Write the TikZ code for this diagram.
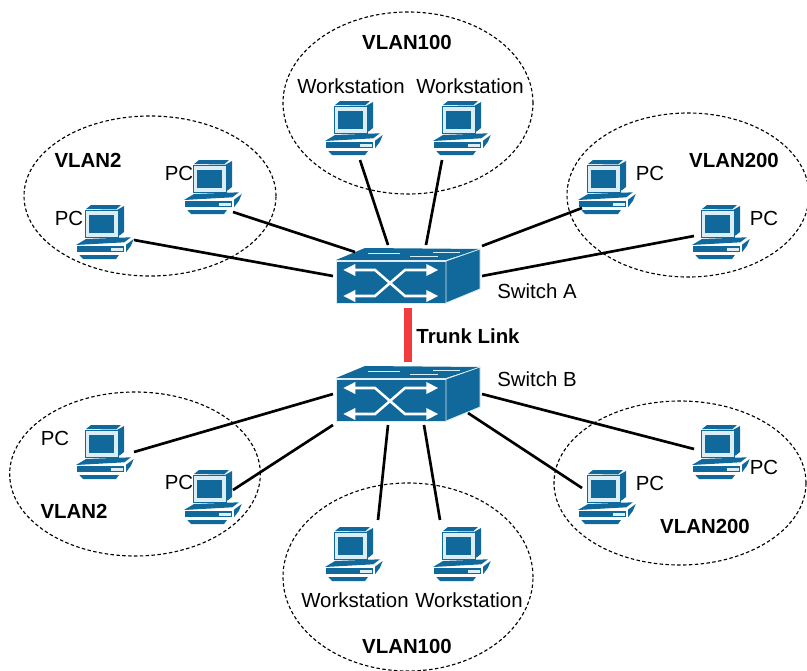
\documentclass[tikz,border=0pt]{standalone}
\usepackage{fontspec}
\setmainfont{Liberation Sans}
\usetikzlibrary{shapes.geometric}
\usetikzlibrary{arrows.meta}
\definecolor{netblue}{HTML}{10699A}
\definecolor{netpale}{HTML}{DCEEF5}
\definecolor{trunkred}{HTML}{F23B3F}
\tikzstyle{label}=[font=\fontsize{15.3}{18}\selectfont, inner sep=0pt]
\tikzstyle{vlan}=[font=\fontsize{15.3}{18}\selectfont\bfseries, inner sep=0pt]
\tikzstyle{group}=[ellipse, draw, line width=0.85pt, dash pattern=on 2.6pt off 1.8pt, inner sep=0pt]
\tikzstyle{wire}=[line width=2pt]
\tikzstyle{trunk}=[line width=6pt, trunkred, shorten <=1.5pt, shorten >=1.5pt]
\tikzstyle{flow}=[line width=1.9pt, white, {Triangle[length=9pt,width=8.5pt]}-{Triangle[length=9pt,width=8.5pt]}]
\tikzstyle{computer}=[rectangle, minimum width=46pt, minimum height=44pt, inner sep=0pt, path picture={
    \begin{scope}[shift={(path picture bounding box.center)}]
      \fill[netblue] (-18,-23) -- (-13,-27) -- (17,-27) -- (12,-22.5) -- cycle;
      \fill[netblue] (13,-22) -- (20,-26) -- (20,0) -- (15.3,3.7) -- cycle;
      \filldraw[fill=netpale, draw=netblue, line width=0.5pt] (-18.7,-21.3) rectangle (14.7,5.3);
      \fill[netblue] (-14.7,-17.3) rectangle (10.3,1.3);
      \fill[netblue] (-28,13) -- (-18,7) -- (27,5.3) -- (20.3,10.3) -- cycle;
      \fill[netblue] (-27.3,13.7) rectangle (20.3,20.3);
      \fill[netpale] (7,16) rectangle (18.7,19.3);
      \fill[netblue] (22,12.7) -- (29.7,7) -- (27,13.7) -- (22,20.3) -- cycle;
      \fill[netblue] (-24.7,23) -- (15,23) -- (12,27) -- (-21,27) -- cycle;
    \end{scope}}]
\tikzstyle{switch}=[rectangle, minimum width=110pt, minimum height=44pt, inner sep=0pt, path picture={
    \begin{scope}[shift={(path picture bounding box.center)}]
      \fill[netblue] (-43,-28) -- (72,-27) -- (38,-16) -- (-72,-16) -- cycle;
      \filldraw[fill=netblue, draw=netpale, line width=0.6pt] (-72,-15) rectangle (38,27);
      \filldraw[fill=netblue, draw=netpale, line width=0.6pt] (38,-15) -- (72,-27) -- (72,13) -- (38,27) -- cycle;
      \draw[netpale, line width=0.7pt] (-40,-23) -- (-8,-23) (2,-20) -- (30,-20) (25,-24) -- (52,-24);
      \draw[flow] (-64.7,-6) -- (-33,-6) -- (-3,20) -- (30.3,20);
      \draw[flow] (-64.7,20) -- (-33,20) -- (-3,-6) -- (30.3,-6);
    \end{scope}}]

\begin{document}
\begin{tikzpicture}[x=0.75pt, y=-0.75pt]
          \useasboundingbox (0,0) rectangle (807,671);

          \node[group, minimum width=187.5pt, minimum height=136.5pt] (ringTopMid) at (408,103) {};
          \node[group, minimum width=189pt, minimum height=120pt] (ringTopLeft) at (150,196) {};
          \node[group, minimum width=181.5pt, minimum height=123pt] (ringTopRight) at (688,195) {};
          \node[group, minimum width=188pt, minimum height=123pt] (ringBotLeft) at (135,474) {};
          \node[group, minimum width=189pt, minimum height=123pt] (ringBotRight) at (680,483) {};
          \node[group, minimum width=187.5pt, minimum height=141pt] (ringBotMid) at (408,577) {};

          \node[switch] (switchA) at (408,276) {};
          \node[switch] (switchB) at (408,394) {};

          \node[computer] (wsTopA) at (353,128) {};
          \node[computer] (wsTopB) at (461,128) {};
          \node[computer] (pcTopA) at (212,187) {};
          \node[computer] (pcTopB) at (104,232) {};
          \node[computer] (pcTopC) at (606,187) {};
          \node[computer] (pcTopD) at (720,232) {};
          \node[computer] (pcBotA) at (104,452) {};
          \node[computer] (pcBotB) at (212,497) {};
          \node[computer] (wsBotA) at (353,554) {};
          \node[computer] (wsBotB) at (461,554) {};
          \node[computer] (pcBotC) at (606,497) {};
          \node[computer] (pcBotD) at (720,452) {};

          \draw[wire] ([shift={(7,32)}]wsTopA.center) -- ([shift={(-20,-31)}]switchA.center);
          \draw[wire] ([shift={(-19,32)}]wsTopB.center) -- ([shift={(18,-31)}]switchA.center);
          \draw[wire] ([shift={(21,25)}]pcTopA.center) -- ([shift={(-53,-24)}]switchA.center);
          \draw[wire] ([shift={(30,8)}]pcTopB.center) -- ([shift={(-75,0)}]switchA.center);
          \draw[wire] ([shift={(-24,21)}]pcTopC.center) -- ([shift={(74,-30)}]switchA.center);
          \draw[wire] ([shift={(-26,4)}]pcTopD.center) -- ([shift={(74,0)}]switchA.center);
          \draw[wire] ([shift={(30,0)}]pcBotA.center) -- ([shift={(-75,0)}]switchB.center);
          \draw[wire] ([shift={(21,-7)}]pcBotB.center) -- ([shift={(-75,31)}]switchB.center);
          \draw[wire] ([shift={(25,-34)}]wsBotA.center) -- ([shift={(-20,31)}]switchB.center);
          \draw[wire] ([shift={(-21,-34)}]wsBotB.center) -- ([shift={(16,31)}]switchB.center);
          \draw[wire] ([shift={(-24,-9)}]pcBotC.center) -- ([shift={(60,19)}]switchB.center);
          \draw[wire] ([shift={(-26,-3)}]pcBotD.center) -- ([shift={(74,0)}]switchB.center);
          \draw[trunk] (switchA) -- (switchB);

          \node[vlan] (nameTopMid) at (407,42) {VLAN100};
          \node[vlan] (nameTopLeft) at (88,160) {VLAN2};
          \node[vlan] (nameTopRight) at (734,160) {VLAN200};
          \node[vlan] (nameBotLeft) at (74,511) {VLAN2};
          \node[vlan] (nameBotRight) at (705,526) {VLAN200};
          \node[vlan] (nameBotMid) at (407,646) {VLAN100};
          \node[vlan] (nameTrunk) at (468,336) {Trunk Link};

          \node[label] (textSwitchA) at (537,291) {Switch A};
          \node[label] (textSwitchB) at (537,379) {Switch B};
          \node[label] (textWsTopA) at (351,86) {Workstation};
          \node[label] (textWsTopB) at (470,86) {Workstation};
          \node[label] (textWsBotA) at (355,600) {Workstation};
          \node[label] (textWsBotB) at (469,600) {Workstation};
          \node[label] (textPcTopA) at (179,173) {PC};
          \node[label] (textPcTopB) at (69,218) {PC};
          \node[label] (textPcTopC) at (650,173) {PC};
          \node[label] (textPcTopD) at (764,218) {PC};
          \node[label] (textPcBotA) at (55,438) {PC};
          \node[label] (textPcBotB) at (179,482) {PC};
          \node[label] (textPcBotC) at (650,483) {PC};
          \node[label] (textPcBotD) at (764,467) {PC};
        \end{tikzpicture}
\end{document}
